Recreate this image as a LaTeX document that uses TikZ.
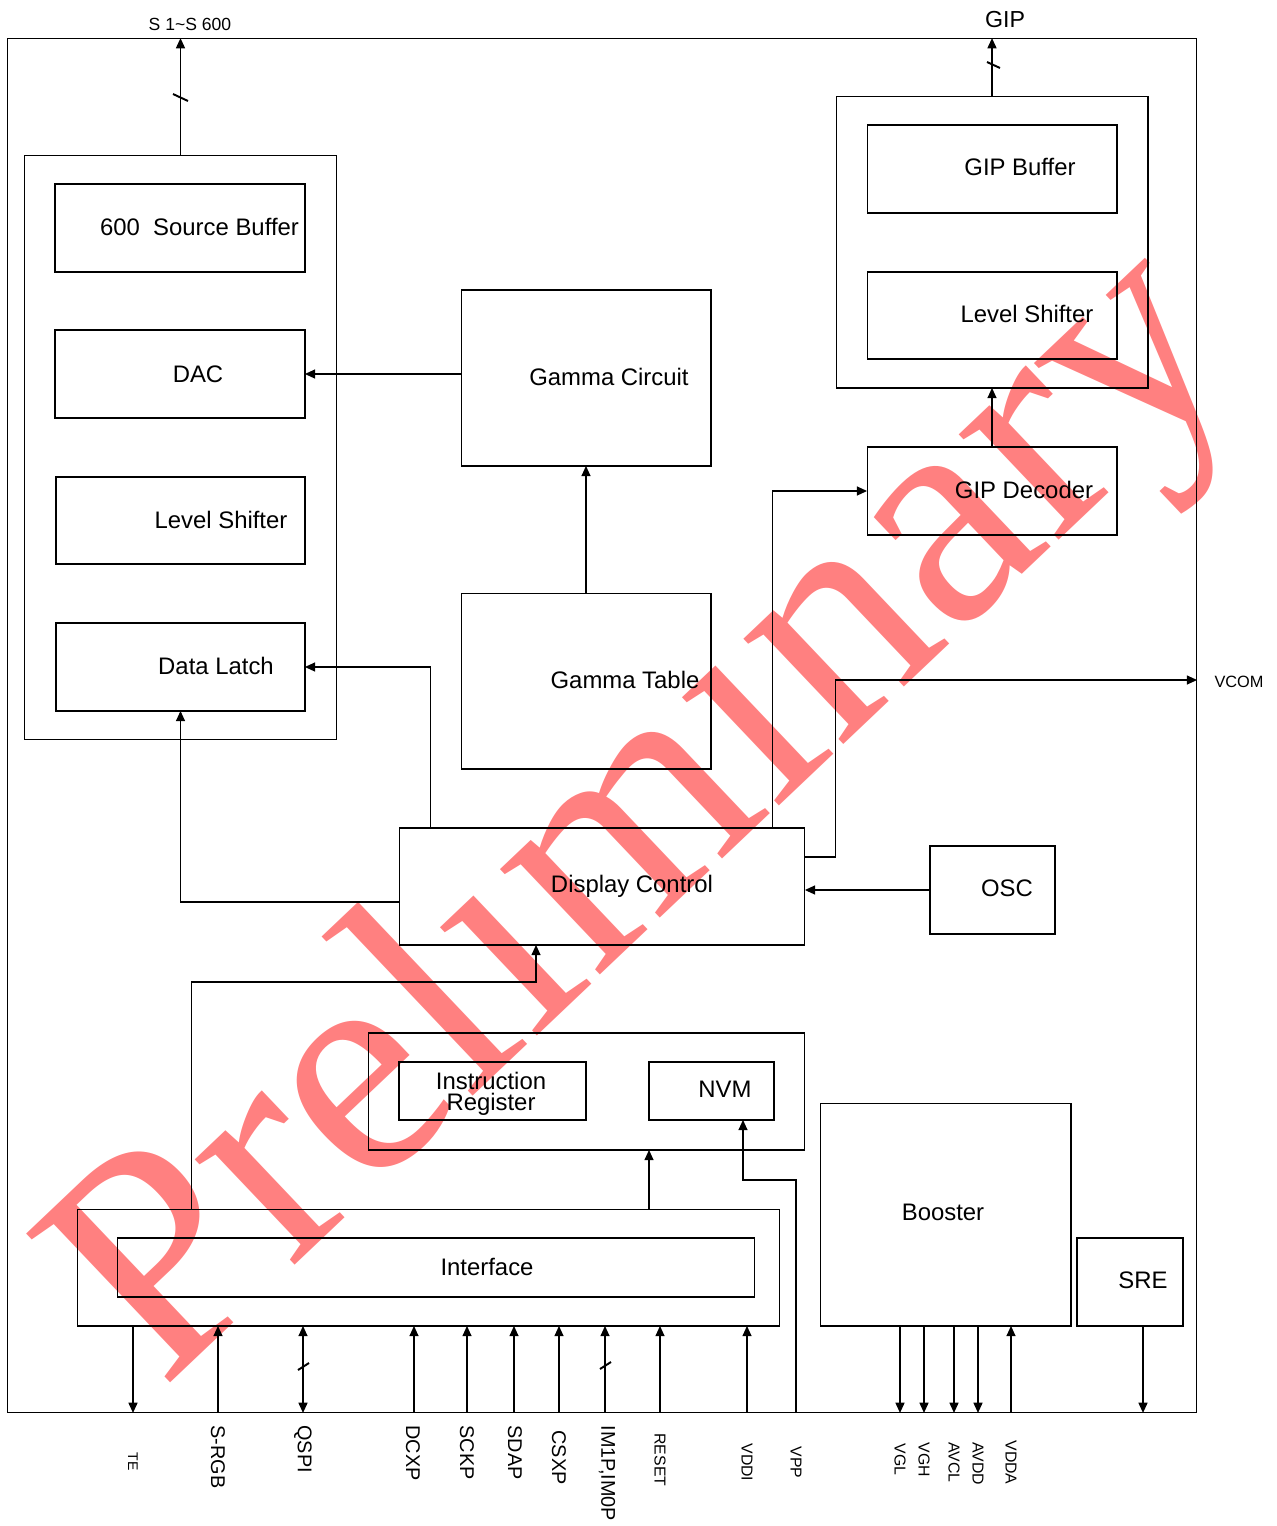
\documentclass[tikz,border=0pt]{standalone}
\usepackage{fontspec}
\setmainfont{Liberation Sans}
\newfontfamily\wmfont{Liberation Serif}
\usetikzlibrary{arrows.meta}
\tikzset{
	blk/.style={draw, inner sep=0pt, outer sep=0pt},
	txt/.style={font=\fontsize{13.6}{12}\selectfont, inner sep=0pt},
	pin/.style={font=\fontsize{11.3}{12}\selectfont, rotate=-90, anchor=west, inner sep=0pt},
	spin/.style={pin, font=\fontsize{9}{10}\selectfont},
	arr/.style={-{Triangle[length=5.8pt,width=5.2pt]}},
	darr/.style={{Triangle[length=5.8pt,width=5.2pt]}-{Triangle[length=5.8pt,width=5.2pt]}},
	slash/.style={line width=1.1pt},
}
\begin{document}
\begin{tikzpicture}[x=0.02cm, y=-0.02cm, line width=0.6pt]
	\useasboundingbox (0,0) rectangle (1277,1526);
	\node[rotate=43.5, text=red!50, font=\wmfont\fontsize{180}{180}\selectfont] (prelim) at (652,822) {Prel\i m\i nary};
	
	\node[blk, minimum width=23.8cm, minimum height=27.5cm] (frame) at (602,725.5) {};
	\node[blk, minimum width=6.26cm, minimum height=11.7cm] (srcblk) at (180.5,447.5) {};
	\node[blk, minimum width=5cm, minimum height=1.76cm] (srcbuf) at (180,228) {};
	\node[blk, minimum width=5cm, minimum height=1.76cm] (dac) at (180,374) {};
	\node[blk, minimum width=4.98cm, minimum height=1.74cm] (lsl) at (180.5,520.5) {};
	\node[blk, minimum width=4.98cm, minimum height=1.76cm] (latch) at (180.5,667) {};
	\node[blk, minimum width=5cm, minimum height=3.52cm] (gcirc) at (586,378) {};
	\node[blk, minimum width=5cm, minimum height=3.52cm] (gtab) at (586,681) {};
	\node[blk, minimum width=6.24cm, minimum height=5.84cm] (gipblk) at (992,242) {};
	\node[blk, minimum width=5cm, minimum height=1.76cm] (gipbuf) at (992,169) {};
	\node[blk, minimum width=5cm, minimum height=1.74cm] (lsr) at (992,315.5) {};
	\node[blk, minimum width=5cm, minimum height=1.76cm] (gipdec) at (992,491) {};
	\node[blk, minimum width=8.12cm, minimum height=2.34cm] (disp) at (602,886.5) {};
	\node[blk, minimum width=2.5cm, minimum height=1.76cm] (osc) at (992.5,890) {};
	\node[blk, minimum width=8.74cm, minimum height=2.34cm] (regblk) at (586.5,1091.5) {};
	\node[blk, minimum width=3.74cm, minimum height=1.16cm] (ireg) at (492.5,1091) {};
	\node[blk, minimum width=2.5cm, minimum height=1.16cm] (nvm) at (711.5,1091) {};
	\node[blk, minimum width=14.06cm, minimum height=2.34cm] (ifblk) at (428.5,1267.5) {};
	\node[blk, minimum width=12.76cm, minimum height=1.18cm] (iface) at (436,1267.5) {};
	\node[blk, minimum width=5.02cm, minimum height=4.46cm] (booster) at (945.5,1214.5) {};
	\node[blk, minimum width=2.12cm, minimum height=1.76cm] (sre) at (1130,1282) {};
	
	\node[txt] (srcbuftxt) at (199.5,227) {600\ \ Source Buffer};
	\node[txt] (dactxt) at (198,374) {DAC};
	\node[txt] (lsltxt) at (221,520) {Level Shifter};
	\node[txt] (latchtxt) at (216,666) {Data Latch};
	\node[txt] (gcirctxt) at (609,377) {Gamma Circuit};
	\node[txt] (gtabtxt) at (625,680) {Gamma Table};
	\node[txt] (gipbuftxt) at (1020,167) {GIP Buffer};
	\node[txt] (lsrtxt) at (1027,314) {Level Shifter};
	\node[txt] (gipdectxt) at (1024,490) {GIP Decoder};
	\node[txt] (disptxt) at (632,886) {Display Control};
	\node[txt] (osctxt) at (1007,888) {OSC};
	\node[txt, align=center] (iregtxt) at (491,1094) {Instruction\\Register};
	\node[txt] (nvmtxt) at (725,1089) {NVM};
	\node[txt] (ifacetxt) at (487,1267) {Interface};
	\node[txt] (boostertxt) at (943,1212) {Booster};
	\node[txt] (sretxt) at (1143,1280) {SRE};
	
	\node[font=\fontsize{10}{11}\selectfont, inner sep=0pt] (slbl) at (190,24) {S 1\textasciitilde S 600};
	\node[font=\fontsize{13.2}{14}\selectfont, inner sep=0pt] (giplbl) at (1005,20) {GIP};
	\node[font=\fontsize{9.3}{10}\selectfont, inner sep=0pt] (vcomlbl) at (1239,682) {VCOM};
	\coordinate (vcom) at (1197,680);
	\coordinate (vpp) at (796,1413);
	
	\draw[arr] (srcblk.north) -- (srcblk.north |- frame.north);
	\draw[arr] (gipblk.north) -- (gipblk.north |- frame.north);
	\draw[slash] (173,94) -- (188,101);
	\draw[slash] (987,62) -- (1000,68);
	\draw[arr] (gipdec.north) -- (gipblk.south);
	\draw[arr] (gcirc.west |- dac.east) -- (dac.east);
	\draw[arr] (gtab.north) -- (gcirc.south);
	\draw[arr] ([xshift=-0.64cm]disp.north east) |- (gipdec.west);
	\draw[arr] ([yshift=0.59cm]disp.east) -- ++(31,0) |- (vcom);
	\draw[arr] ([xshift=0.62cm]disp.north west) |- (latch.east);
	\draw[arr] ([yshift=-0.31cm]disp.west) -| (latch.south);
	\draw[arr] (osc.west) -- (osc.west -| disp.east);
	\draw[arr] ([xshift=2.28cm]ifblk.north west) -- ++(0,-227) -| ([xshift=-1.32cm]disp.south);
	\draw[arr] (ifblk.north -| nvm.west) -- (regblk.south -| nvm.west);
	\draw[arr] (vpp) -- ++(0,-233) -| ([xshift=0.63cm]nvm.south);
	
	\draw[arr] (ifblk.south -| 133,0) -- (frame.south -| 133,0);
	\draw[arr] (frame.south -| 218,0) -- (ifblk.south -| 218,0);
	\draw[darr] (frame.south -| 303,0) -- (ifblk.south -| 303,0);
	\foreach \x in {414,467,514,559,605,660,747}
		\draw[arr] (frame.south -| \x,0) -- (ifblk.south -| \x,0);
	\draw[slash] (298,1370) -- (309,1363);
	\draw[slash] (600,1369) -- (611,1362);
	\foreach \x in {900,924,954,978}
		\draw[arr] (booster.south -| \x,0) -- (frame.south -| \x,0);
	\draw[arr] (frame.south -| 1011,0) -- (booster.south -| 1011,0);
	\draw[arr] (sre.south -| 1143,0) -- (frame.south -| 1143,0);
	
	\node[pin, font=\fontsize{8}{9}\selectfont] (te) at (133,1452) {TE};
	\node[pin] (srgb) at (218,1425) {S-RGB};
	\node[pin] (qspi) at (303,1425) {QSPI};
	\node[pin] (dcxp) at (413,1425) {DCXP};
	\node[pin] (sckp) at (467,1425) {SCKP};
	\node[pin] (sdap) at (515,1425) {SDAP};
	\node[pin] (csxp) at (559,1430) {CSXP};
	\node[pin] (imp) at (607,1425) {IM1P,IM0P};
	\node[spin] (reset) at (660,1433) {RESET};
	\node[spin] (vddi) at (747,1443) {VDDI};
	\node[spin] (vpplbl) at (796,1446) {VPP};
	\node[spin] (vgl) at (900,1443) {VGL};
	\node[spin] (vgh) at (924,1442) {VGH};
	\node[spin] (avcl) at (954,1442) {AVCL};
	\node[spin] (avdd) at (978,1442) {AVDD};
	\node[spin] (vdda) at (1011,1440) {VDDA};
\end{tikzpicture}
\end{document}
